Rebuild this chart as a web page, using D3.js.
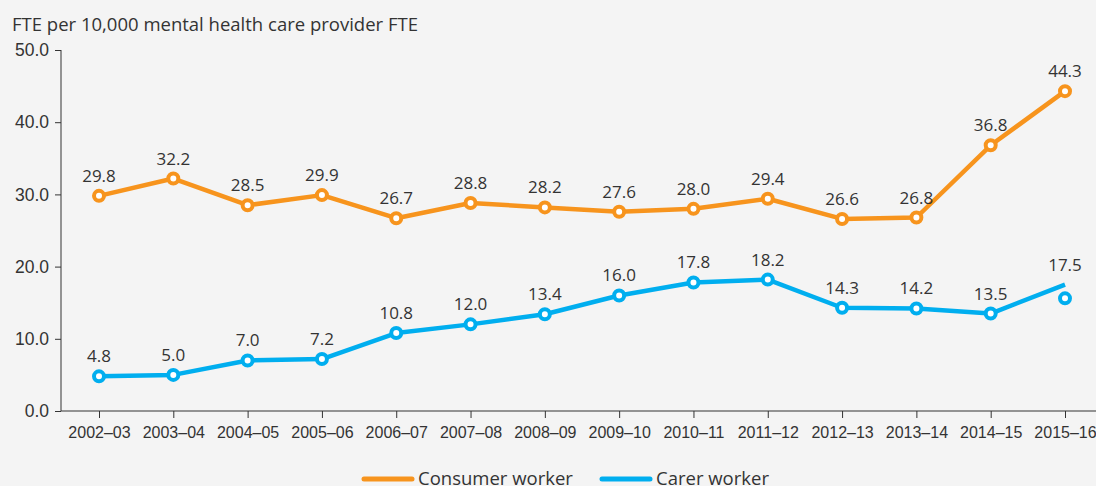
<!DOCTYPE html>
<html>
<head>
<meta charset="utf-8">
<script src="https://cdn.jsdelivr.net/npm/d3@7"></script>
<style>
  body { margin: 0; background: #f4f4f4; }
  svg { display: block; font-family: "Open Sans", sans-serif; }
  .axis path, .axis line { stroke: #333; }
  .axis text { fill: #333; }
</style>
</head>
<body>
<svg id="chart" width="1096" height="486"></svg>
<script>
var years = ["2002–03", "2003–04", "2004–05", "2005–06", "2006–07", "2007–08", "2008–09",
             "2009–10", "2010–11", "2011–12", "2012–13", "2013–14", "2014–15", "2015–16"];
var consumer = [29.8, 32.2, 28.5, 29.9, 26.7, 28.8, 28.2, 27.6, 28.0, 29.4, 26.6, 26.8, 36.8, 44.3];
var carer = [4.8, 5.0, 7.0, 7.2, 10.8, 12.0, 13.4, 16.0, 17.8, 18.2, 14.3, 14.2, 13.5, 17.5];
// the last carer marker sits below its line end in the original
var carerMarkers = [4.8, 5.0, 7.0, 7.2, 10.8, 12.0, 13.4, 16.0, 17.8, 18.2, 14.3, 14.2, 13.5, 15.6];
var yTicks = [0, 10, 20, 30, 40, 50];

var svg = d3.select("svg#chart");

var x = d3.scalePoint().domain(years).range([99, 1065]);
var y = d3.scaleLinear().domain([0, 50]).range([411, 50]);

svg.append("text")
    .attr("x", 12)
    .attr("y", 31)
    .style("font-size", "18.5px")
    .attr("fill", "#333")
    .text("FTE per 10,000 mental health care provider FTE");

// y axis
var yAxis = svg.append("g")
    .attr("class", "axis")
    .attr("transform", "translate(61,0)")
    .call(d3.axisLeft(y).tickValues(yTicks).tickSize(6).tickSizeOuter(0).tickFormat(d3.format(".1f")));
yAxis.select(".domain").attr("d", "M0,50V411");
yAxis.selectAll("text").style("font-size", "17.5px").attr("x", -12);

// x axis
var xAxis = svg.append("g")
    .attr("class", "axis")
    .attr("transform", "translate(0,411)")
    .call(d3.axisBottom(x).tickSize(7).tickSizeOuter(0));
xAxis.select(".domain").attr("d", "M61,0H1096");
xAxis.selectAll("text").style("font-size", "16px").attr("y", 16);

var series = [
  {name: "Consumer worker", values: consumer, markers: consumer, color: "#f7941d"},
  {name: "Carer worker", values: carer, markers: carerMarkers, color: "#00aeef"}
];

var line = d3.line()
    .x(function(d, i) { return x(years[i]); })
    .y(function(d) { return y(d); });

series.forEach(function(s) {
  svg.append("path")
      .datum(s.values)
      .attr("fill", "none")
      .attr("stroke", s.color)
      .attr("stroke-width", 4.5)
      .attr("stroke-linejoin", "round")
      .attr("d", line);

  svg.selectAll(null)
      .data(s.markers)
      .enter().append("circle")
      .attr("cx", function(d, i) { return x(years[i]); })
      .attr("cy", function(d) { return y(d); })
      .attr("r", 5)
      .attr("fill", "#fff")
      .attr("stroke", s.color)
      .attr("stroke-width", 4);

  svg.selectAll(null)
      .data(s.values)
      .enter().append("text")
      .attr("x", function(d, i) { return x(years[i]); })
      .attr("y", function(d) { return y(d) - 14; })
      .attr("text-anchor", "middle")
      .style("font-size", "17px")
      .attr("fill", "#333")
      .text(function(d) { return d.toFixed(1); });
});

// legend
var legend = svg.append("g");
[{x: 362, s: series[0]}, {x: 600, s: series[1]}].forEach(function(l) {
  legend.append("line")
      .attr("x1", l.x + 2).attr("x2", l.x + 50)
      .attr("y1", 479).attr("y2", 479)
      .attr("stroke", l.s.color)
      .attr("stroke-width", 5)
      .attr("stroke-linecap", "round");
  legend.append("text")
      .attr("x", l.x + 56)
      .attr("y", 485)
      .style("font-size", "18.5px")
      .attr("fill", "#333")
      .text(l.s.name);
});
</script>
</body>
</html>
